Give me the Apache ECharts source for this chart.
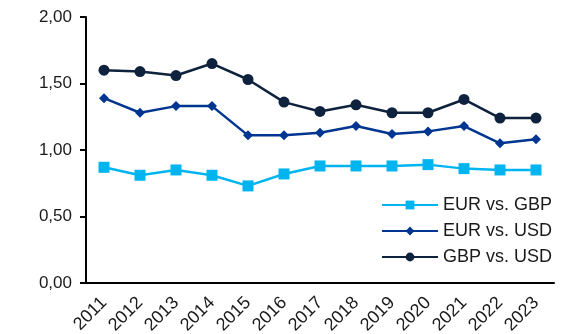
<!DOCTYPE html>
<html>
<head>
<meta charset="utf-8">
<script src="https://cdn.jsdelivr.net/npm/echarts@6/dist/echarts.min.js"></script>
<style>
  html, body { margin: 0; padding: 0; background: #fff; }
  #chart { width: 566px; height: 334px; }
</style>
</head>
<body>
<div id="chart"></div>
<script>
var years = ['2011', '2012', '2013', '2014', '2015', '2016', '2017', '2018', '2019', '2020', '2021', '2022', '2023'];
var eurGbp = [0.87, 0.81, 0.85, 0.81, 0.73, 0.82, 0.88, 0.88, 0.88, 0.89, 0.86, 0.85, 0.85];
var eurUsd = [1.39, 1.28, 1.33, 1.33, 1.11, 1.11, 1.13, 1.18, 1.12, 1.14, 1.18, 1.05, 1.08];
var gbpUsd = [1.60, 1.59, 1.56, 1.65, 1.53, 1.36, 1.29, 1.34, 1.28, 1.28, 1.38, 1.24, 1.24];

var font = 'Liberation Sans, Arial, sans-serif';
var chart = echarts.init(document.getElementById('chart'), null, { renderer: 'canvas' });

function serie(name, data, color, symbol, size) {
  return {
    name: name,
    type: 'line',
    data: data,
    symbol: symbol,
    symbolSize: size,
    itemStyle: { color: color },
    lineStyle: { color: color, width: 2.5 },
    emphasis: { disabled: true }
  };
}

var option = {
  animation: false,
  textStyle: { fontFamily: font },
  grid: { left: 86, right: 12, top: 17, bottom: 51, containLabel: false, outerBoundsMode: 'none' },
  legend: {
    orient: 'vertical',
    left: 376,
    top: 191,
    itemWidth: 56,
    itemHeight: 11,
    itemGap: 8,
    textStyle: { fontSize: 18, color: '#1a1a1a', fontFamily: font, lineHeight: 18 },
    data: ['EUR vs. GBP', 'EUR vs. USD', 'GBP vs. USD']
  },
  xAxis: {
    type: 'category',
    data: years,
    boundaryGap: true,
    axisLine: { lineStyle: { color: '#000', width: 2 } },
    axisTick: { alignWithLabel: false, length: 6, lineStyle: { color: '#000', width: 2 } },
    axisLabel: { rotate: 45, fontSize: 18, color: '#1a1a1a', margin: 17, interval: 0 }
  },
  yAxis: {
    type: 'value',
    min: 0,
    max: 2,
    interval: 0.5,
    splitLine: { show: false },
    axisLine: { show: true, lineStyle: { color: '#000', width: 2 } },
    axisTick: { show: true, length: 6, lineStyle: { color: '#000', width: 2 } },
    axisLabel: {
      fontSize: 17,
      color: '#1a1a1a',
      margin: 14,
      formatter: function (v) { return v.toFixed(2).replace('.', ','); }
    }
  },
  series: [
    serie('EUR vs. GBP', eurGbp, '#00B4F0', 'rect', 11),
    serie('EUR vs. USD', eurUsd, '#003591', 'diamond', 10),
    serie('GBP vs. USD', gbpUsd, '#0E223D', 'circle', 11)
  ]
};
chart.setOption(option);
</script>
</body>
</html>
